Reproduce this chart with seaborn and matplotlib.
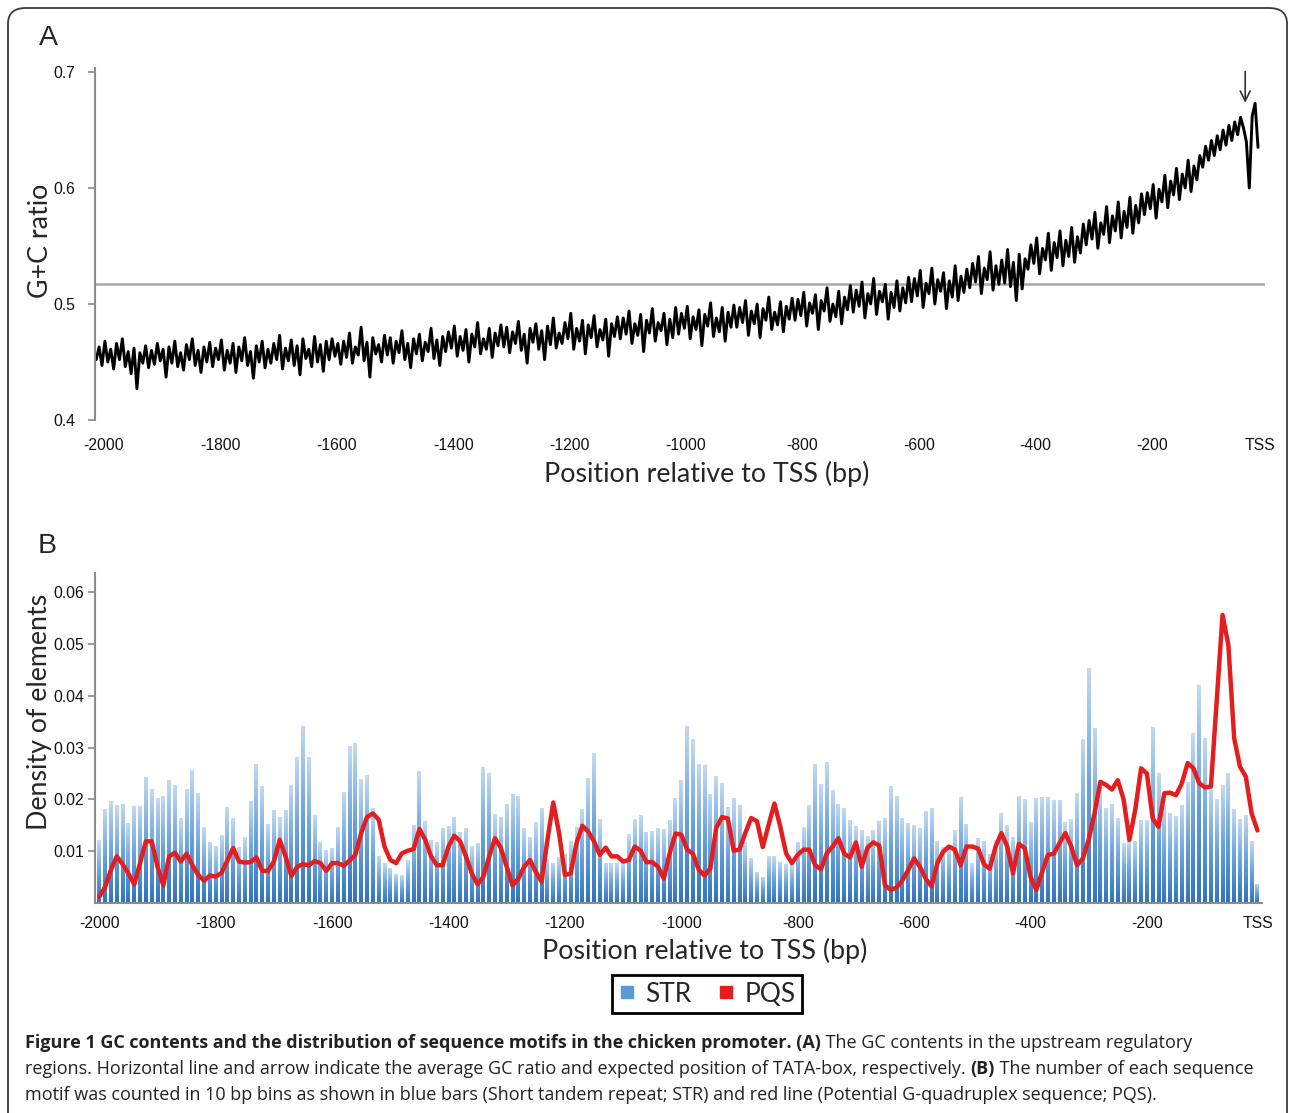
import numpy as np
import pandas as pd
import matplotlib
matplotlib.use("Agg")
import matplotlib.pyplot as plt
import seaborn as sns
from matplotlib.colors import LinearSegmentedColormap
from matplotlib.patches import FancyBboxPatch
from matplotlib.lines import Line2D

# ---------------- data: panel A (G+C ratio, 5 bp steps) ----------------
gc_pos = np.arange(-2000, 0, 5)
gc_ratio = [
    0.452, 0.463, 0.447, 0.468, 0.450, 0.461, 0.444, 0.466, 0.452, 0.470, 0.446, 0.459, 0.440, 0.462, 0.427, 0.458, 0.449, 0.464, 0.445, 0.460,
    0.448, 0.466, 0.451, 0.461, 0.437, 0.463, 0.449, 0.468, 0.446, 0.458, 0.443, 0.465, 0.452, 0.470, 0.447, 0.460, 0.441, 0.463, 0.450, 0.467,
    0.446, 0.462, 0.452, 0.469, 0.443, 0.460, 0.449, 0.466, 0.441, 0.463, 0.451, 0.471, 0.447, 0.459, 0.436, 0.464, 0.450, 0.468, 0.445, 0.461,
    0.449, 0.466, 0.452, 0.473, 0.444, 0.462, 0.451, 0.469, 0.447, 0.464, 0.439, 0.470, 0.453, 0.461, 0.446, 0.472, 0.450, 0.465, 0.442, 0.468,
    0.452, 0.470, 0.455, 0.466, 0.448, 0.468, 0.454, 0.475, 0.449, 0.463, 0.456, 0.480, 0.451, 0.467, 0.437, 0.471, 0.457, 0.465, 0.450, 0.473,
    0.456, 0.471, 0.449, 0.468, 0.458, 0.477, 0.452, 0.466, 0.445, 0.470, 0.457, 0.474, 0.451, 0.467, 0.459, 0.479, 0.453, 0.469, 0.447, 0.472,
    0.459, 0.476, 0.462, 0.481, 0.455, 0.472, 0.460, 0.478, 0.450, 0.474, 0.463, 0.484, 0.457, 0.470, 0.461, 0.479, 0.454, 0.475, 0.464, 0.482,
    0.463, 0.480, 0.458, 0.476, 0.466, 0.485, 0.460, 0.474, 0.449, 0.479, 0.467, 0.483, 0.461, 0.477, 0.452, 0.481, 0.465, 0.488, 0.462, 0.475,
    0.466, 0.484, 0.470, 0.492, 0.461, 0.479, 0.468, 0.486, 0.457, 0.482, 0.471, 0.490, 0.463, 0.478, 0.469, 0.487, 0.455, 0.483, 0.472, 0.489,
    0.470, 0.488, 0.474, 0.494, 0.466, 0.483, 0.473, 0.491, 0.459, 0.486, 0.475, 0.496, 0.468, 0.484, 0.477, 0.492, 0.465, 0.487, 0.471, 0.497,
    0.474, 0.492, 0.479, 0.498, 0.470, 0.489, 0.478, 0.495, 0.464, 0.491, 0.481, 0.501, 0.472, 0.488, 0.476, 0.497, 0.468, 0.493, 0.480, 0.499,
    0.480, 0.497, 0.484, 0.503, 0.473, 0.494, 0.483, 0.500, 0.471, 0.496, 0.486, 0.506, 0.478, 0.493, 0.482, 0.502, 0.476, 0.498, 0.487, 0.505,
    0.486, 0.504, 0.490, 0.510, 0.481, 0.501, 0.492, 0.508, 0.478, 0.503, 0.494, 0.514, 0.485, 0.500, 0.489, 0.511, 0.483, 0.506, 0.495, 0.516,
    0.493, 0.512, 0.498, 0.519, 0.488, 0.509, 0.500, 0.522, 0.491, 0.511, 0.502, 0.517, 0.487, 0.510, 0.497, 0.520, 0.494, 0.514, 0.501, 0.523,
    0.502, 0.522, 0.507, 0.529, 0.497, 0.518, 0.509, 0.531, 0.500, 0.521, 0.511, 0.527, 0.496, 0.520, 0.506, 0.533, 0.503, 0.524, 0.510, 0.530,
    0.514, 0.535, 0.519, 0.541, 0.509, 0.531, 0.521, 0.545, 0.512, 0.533, 0.517, 0.538, 0.518, 0.547, 0.515, 0.536, 0.503, 0.543, 0.513, 0.539,
    0.530, 0.551, 0.535, 0.557, 0.526, 0.548, 0.538, 0.561, 0.529, 0.553, 0.540, 0.563, 0.533, 0.555, 0.541, 0.566, 0.536, 0.558, 0.544, 0.569,
    0.551, 0.572, 0.556, 0.579, 0.548, 0.570, 0.560, 0.584, 0.553, 0.576, 0.563, 0.588, 0.557, 0.580, 0.566, 0.592, 0.561, 0.585, 0.570, 0.595,
    0.577, 0.596, 0.582, 0.603, 0.574, 0.599, 0.588, 0.611, 0.583, 0.606, 0.594, 0.617, 0.590, 0.612, 0.600, 0.624, 0.597, 0.619, 0.607, 0.628,
    0.618, 0.636, 0.624, 0.641, 0.628, 0.645, 0.633, 0.650, 0.637, 0.654, 0.641, 0.657, 0.646, 0.661, 0.652, 0.640, 0.600, 0.662, 0.673, 0.635,
]
gc_mean = 0.517          # average GC ratio (horizontal line)
tata_pos = -27           # expected TATA-box position (arrow)

# ---------------- data: panel B (10 bp bins) ----------------
bin_centers = np.arange(-1995, 0, 10)
str_density = [
    0.0121, 0.0181, 0.0197, 0.0189, 0.0192, 0.0154, 0.0188, 0.0188, 0.0244, 0.0221, 0.0203, 0.0207, 0.0238, 0.0227, 0.0164, 0.0220,
    0.0256, 0.0212, 0.0146, 0.0118, 0.0110, 0.0131, 0.0186, 0.0164, 0.0108, 0.0127, 0.0197, 0.0269, 0.0226, 0.0153, 0.0179, 0.0166,
    0.0179, 0.0227, 0.0282, 0.0342, 0.0281, 0.0170, 0.0118, 0.0103, 0.0106, 0.0147, 0.0214, 0.0303, 0.0308, 0.0240, 0.0247, 0.0184,
    0.0091, 0.0077, 0.0068, 0.0056, 0.0054, 0.0083, 0.0151, 0.0254, 0.0159, 0.0121, 0.0117, 0.0145, 0.0149, 0.0166, 0.0137, 0.0145,
    0.0110, 0.0116,
    0.0262, 0.0251, 0.0171, 0.0166, 0.0192, 0.0211, 0.0206, 0.0145, 0.0128, 0.0156, 0.0184, 0.0085, 0.0078, 0.0088, 0.0095, 0.0119,
    0.0146, 0.0181, 0.0242, 0.0290, 0.0162, 0.0077, 0.0077, 0.0077, 0.0077, 0.0133, 0.0163, 0.0169, 0.0138, 0.0139, 0.0144, 0.0142,
    0.0160,
    0.0202, 0.0237, 0.0342, 0.0316, 0.0269, 0.0266, 0.0211, 0.0246, 0.0231, 0.0185, 0.0202, 0.0190, 0.0117, 0.0087, 0.0060, 0.0051,
    0.0090, 0.0090, 0.0080, 0.0075, 0.0075, 0.0118, 0.0147, 0.0189, 0.0269, 0.0229, 0.0273, 0.0219, 0.0192, 0.0184, 0.0160, 0.0148,
    0.0140, 0.0129,
    0.0140, 0.0159, 0.0165, 0.0225, 0.0206, 0.0165, 0.0155, 0.0150, 0.0144, 0.0177, 0.0183, 0.0119, 0.0108, 0.0108, 0.0140, 0.0205,
    0.0153, 0.0077, 0.0125, 0.0120, 0.0095, 0.0121, 0.0173, 0.0150, 0.0128, 0.0207, 0.0200, 0.0156, 0.0203, 0.0205, 0.0205, 0.0199,
    0.0199, 0.0156,
    0.0162, 0.0212, 0.0316, 0.0454, 0.0337, 0.0225, 0.0183, 0.0192, 0.0165, 0.0116, 0.0123, 0.0120, 0.0160, 0.0160, 0.0339, 0.0250,
    0.0190, 0.0173, 0.0168, 0.0189, 0.0234, 0.0329, 0.0420, 0.0318, 0.0225, 0.0200, 0.0227, 0.0250, 0.0181, 0.0162, 0.0169, 0.0119,
    0.0037,
]
pqs_density = [
    0.0012, 0.0031, 0.0064, 0.0090, 0.0075, 0.0057, 0.0036, 0.0077, 0.0119, 0.0119, 0.0070, 0.0034, 0.0090, 0.0097, 0.0080, 0.0095,
    0.0073, 0.0054, 0.0043, 0.0053, 0.0051, 0.0058, 0.0082, 0.0106, 0.0080, 0.0078, 0.0079, 0.0088, 0.0062, 0.0062, 0.0080, 0.0122,
    0.0090, 0.0052, 0.0070, 0.0075, 0.0073, 0.0081, 0.0077, 0.0062, 0.0077, 0.0077, 0.0072, 0.0082, 0.0093, 0.0135, 0.0166, 0.0173,
    0.0161, 0.0109, 0.0083, 0.0077, 0.0096, 0.0101, 0.0104, 0.0143, 0.0122, 0.0090, 0.0073, 0.0073, 0.0109, 0.0130, 0.0119, 0.0090,
    0.0057, 0.0036,
    0.0051, 0.0090, 0.0125, 0.0106, 0.0070, 0.0034, 0.0047, 0.0070, 0.0083, 0.0060, 0.0041, 0.0122, 0.0194, 0.0135, 0.0054, 0.0057,
    0.0116, 0.0149, 0.0138, 0.0119, 0.0093, 0.0107, 0.0090, 0.0090, 0.0080, 0.0083, 0.0109, 0.0101, 0.0079, 0.0079, 0.0070, 0.0047,
    0.0096,
    0.0134, 0.0132, 0.0103, 0.0095, 0.0064, 0.0053, 0.0067, 0.0145, 0.0166, 0.0163, 0.0101, 0.0103, 0.0135, 0.0164, 0.0158, 0.0108,
    0.0151, 0.0192, 0.0148, 0.0096, 0.0077, 0.0093, 0.0103, 0.0103, 0.0073, 0.0065, 0.0096, 0.0109, 0.0125, 0.0095, 0.0088, 0.0117,
    0.0070, 0.0107,
    0.0117, 0.0111, 0.0034, 0.0025, 0.0030, 0.0044, 0.0064, 0.0086, 0.0070, 0.0047, 0.0032, 0.0077, 0.0099, 0.0109, 0.0103, 0.0073,
    0.0109, 0.0109, 0.0105, 0.0075, 0.0066, 0.0109, 0.0135, 0.0109, 0.0057, 0.0114, 0.0106, 0.0051, 0.0025, 0.0060, 0.0093, 0.0095,
    0.0116, 0.0135,
    0.0109, 0.0073, 0.0086, 0.0122, 0.0173, 0.0234, 0.0228, 0.0219, 0.0237, 0.0200, 0.0122, 0.0180, 0.0260, 0.0250, 0.0163, 0.0147,
    0.0212, 0.0213, 0.0208, 0.0231, 0.0270, 0.0260, 0.0231, 0.0223, 0.0225, 0.0392, 0.0556, 0.0498, 0.0318, 0.0263, 0.0244, 0.0173,
    0.0140,
]
tick_values = [-2000, -1800, -1600, -1400, -1200, -1000, -800, -600, -400, -200]
tick_labels = ["-2000", "-1800", "-1600", "-1400", "-1200", "-1000", "-800", "-600", "-400", "-200", "TSS"]

assert len(gc_ratio) == len(gc_pos), len(gc_ratio)
assert len(str_density) == 200, len(str_density)
assert len(pqs_density) == 200, len(pqs_density)

# ---------------- style ----------------
sns.set_theme(style="white")
plt.rcParams["font.family"] = ["Liberation Sans", "DejaVu Sans"]
LABEL_FONT = ["Lato", "DejaVu Sans"]
CAP_FONT = ["Open Sans", "DejaVu Sans"]
AXIS_GREY = "#8c8c8c"
RED = "#e41e1e"
TICK_SIZE = 11.3

W, H = 1290, 1113
fig = plt.figure(figsize=(W / 100, H / 100), dpi=100)
fig.patch.set_facecolor("white")


def fx(px):
    return px / W


def fy(py):
    return 1 - py / H


# ---------------- panel A ----------------
ax1 = fig.add_axes([fx(95), fy(420), fx(1265) - fx(95), fy(68) - fy(420)])
gc_df = pd.DataFrame({"pos": gc_pos, "gc": gc_ratio})
ax1.axhline(gc_mean, color="#a8a8a8", lw=1.8, zorder=1)
sns.lineplot(data=gc_df, x="pos", y="gc", ax=ax1, color="black", lw=2.1,
             estimator=None, zorder=2)
ax1.set_xlim(-2002, 7)
ax1.set_ylim(0.4, 0.7035)
ax1.set_yticks([0.4, 0.5, 0.6, 0.7])
ax1.set_yticklabels(["0.4", "0.5", "0.6", "0.7"])
ax1.set_xticks([v + 13 for v in tick_values] + [-2])
ax1.set_xticklabels(tick_labels)
ax1.set_xlabel("")
ax1.set_ylabel("")
for s in ["top", "right", "bottom"]:
    ax1.spines[s].set_visible(False)
ax1.spines["left"].set_color(AXIS_GREY)
ax1.spines["left"].set_linewidth(1.5)
ax1.tick_params(axis="y", left=True, length=5, width=1.2, color=AXIS_GREY,
                labelsize=TICK_SIZE, pad=9, labelcolor="#111111")
ax1.tick_params(axis="x", bottom=False, length=0, labelsize=TICK_SIZE, pad=13,
                labelcolor="#111111")
ax1.annotate("", xy=(tata_pos, 0.6735), xytext=(tata_pos, 0.7005),
             arrowprops=dict(arrowstyle="->", color="#333333", lw=1.2,
                             mutation_scale=18, shrinkA=0, shrinkB=0),
             annotation_clip=False)

# ---------------- panel B ----------------
ax2 = fig.add_axes([fx(95), fy(903), fx(1262) - fx(95), fy(573) - fy(903)])
sns.barplot(x=bin_centers, y=str_density, native_scale=True, width=0.68,
            errorbar=None, color="#5b9bd5", ax=ax2, zorder=1)
cmap = LinearSegmentedColormap.from_list("strgrad", ["#2f74c2", "#6aa3dc", "#c3daf1"])
grad = np.linspace(0, 1, 64).reshape(-1, 1)
for p in list(ax2.patches):
    x0, y0, w, h = p.get_x(), p.get_y(), p.get_width(), p.get_height()
    im = ax2.imshow(grad, extent=[x0, x0 + w, y0, y0 + h], origin="lower",
                    aspect="auto", cmap=cmap, interpolation="bilinear", zorder=1)
    im.set_clip_path(p)
    p.set_facecolor("none")
    p.set_edgecolor("none")
sns.lineplot(x=bin_centers, y=pqs_density, ax=ax2, color=RED, lw=3.2,
             estimator=None, zorder=3)
ax2.set_xlim(-2002.4, 2.8)
ax2.set_ylim(0, 0.0637)
ax2.set_yticks([0.01, 0.02, 0.03, 0.04, 0.05, 0.06])
ax2.set_yticklabels(["0.01", "0.02", "0.03", "0.04", "0.05", "0.06"])
ax2.set_xticks([v + 5 for v in tick_values] + [-5])
ax2.set_xticklabels(tick_labels)
ax2.set_xlabel("")
ax2.set_ylabel("")
for s in ["top", "right"]:
    ax2.spines[s].set_visible(False)
for s in ["left", "bottom"]:
    ax2.spines[s].set_color(AXIS_GREY)
    ax2.spines[s].set_linewidth(1.5)
ax2.tick_params(axis="y", left=True, length=5, width=1.2, color=AXIS_GREY,
                labelsize=TICK_SIZE, pad=3, labelcolor="#111111")
ax2.tick_params(axis="x", bottom=False, length=0, labelsize=TICK_SIZE, pad=9,
                labelcolor="#111111")

# ---------------- labels ----------------
LBL = 19.3
fig.text(fx(707), fy(474), "Position relative to TSS (bp)", ha="center",
         va="center", fontsize=LBL, family=LABEL_FONT)
fig.text(fx(705), fy(951), "Position relative to TSS (bp)", ha="center",
         va="center", fontsize=LBL, family=LABEL_FONT)
fig.text(fx(40), fy(241), "G+C ratio", ha="center", va="center",
         rotation=90, fontsize=LBL, family=LABEL_FONT)
fig.text(fx(40), fy(712), "Density of elements", ha="center", va="center",
         rotation=90, fontsize=LBL, family=LABEL_FONT)
fig.text(fx(48), fy(38), "A", ha="center", va="center", fontsize=20.5,
         family=["Liberation Sans"])
fig.text(fx(47), fy(546), "B", ha="center", va="center", fontsize=20.5,
         family=["Liberation Sans"])

# legend
handles = [Line2D([], [], marker="s", color="#5b9bd5", linestyle="", markersize=9),
           Line2D([], [], marker="s", color=RED, linestyle="", markersize=9)]
leg = fig.legend(handles, ["STR", "PQS"], loc="center",
                 bbox_to_anchor=(fx(707), fy(994)), ncol=2, frameon=True,
                 fancybox=False, edgecolor="black", framealpha=1,
                 prop={"family": LABEL_FONT, "size": 19},
                 handlelength=0.6, handletextpad=0.4, columnspacing=1.0,
                 borderpad=0.25, borderaxespad=0)
leg.get_frame().set_linewidth(2)

# outer frame
fig.patches.append(FancyBboxPatch((fx(8), fy(1130)), fx(1287) - fx(8), fy(8) - fy(1130),
                                  boxstyle="round,pad=0,rounding_size=0.014",
                                  transform=fig.transFigure, fill=False,
                                  ec="#3a3a3a", lw=1.3))

# ---------------- caption with mixed weights ----------------
renderer = fig.canvas.get_renderer()


def text_width(s, size, weight):
    t1 = fig.text(0, 0, "|" + s + "|", fontsize=size, weight=weight, family=CAP_FONT)
    t2 = fig.text(0, 0, "||", fontsize=size, weight=weight, family=CAP_FONT)
    w = t1.get_window_extent(renderer).width - t2.get_window_extent(renderer).width
    t1.remove()
    t2.remove()
    return w


cap_lines = [
    [("Figure 1 GC contents and the distribution of sequence motifs in the chicken promoter. (A)", "bold"),
     (" The GC contents in the upstream regulatory", "normal")],
    [("regions. Horizontal line and arrow indicate the average GC ratio and expected position of TATA-box, respectively. ", "normal"),
     ("(B)", "bold"), (" The number of each sequence", "normal")],
    [("motif was counted in 10 bp bins as shown in blue bars (Short tandem repeat; STR) and red line (Potential G-quadruplex sequence; PQS).", "normal")],
]
targets = [1212, 1228, 1130]
base = 12.0
scales = []
for runs, tw in zip(cap_lines, targets):
    wl = sum(text_width(s, base, wt) for s, wt in runs)
    scales.append(tw / wl)
cap_size = base * min(scales)
baselines = [1048, 1074, 1100]
for runs, yb in zip(cap_lines, baselines):
    xpx = 25
    for s, wt in runs:
        fig.text(fx(xpx), fy(yb), s, fontsize=cap_size, weight=wt,
                 family=CAP_FONT, va="baseline", ha="left", color="#222222")
        xpx += text_width(s, cap_size, wt)

fig.savefig("out.png", dpi=100, facecolor="white")
